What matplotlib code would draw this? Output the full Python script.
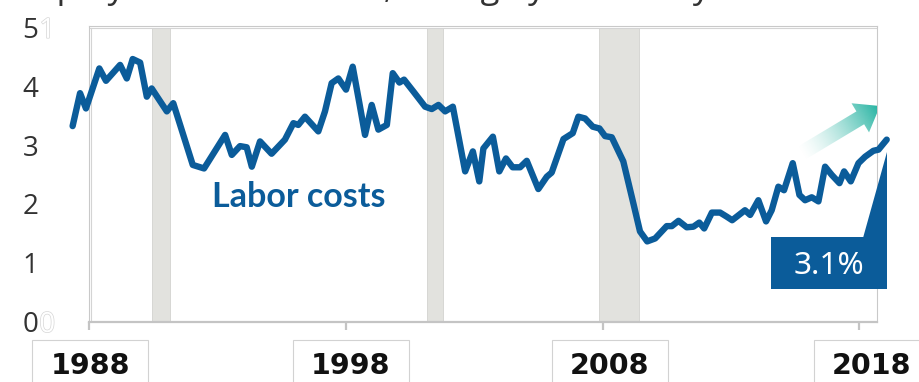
import numpy as np
import matplotlib
matplotlib.use("Agg")
import matplotlib.pyplot as plt
import matplotlib.transforms as mtransforms
import matplotlib.patheffects as pe
from matplotlib.patches import Rectangle, Polygon

# -------------------------------------------------------------
# Data: employment cost index, year-over-year % change
# -------------------------------------------------------------
quarter = [
    1987.35, 1987.64, 1987.87, 1988.39, 1988.65, 1989.20, 1989.46, 1989.69,
    1989.98, 1990.24, 1990.43, 1991.02, 1991.27, 1992.03, 1992.47, 1993.29,
    1993.55, 1993.87, 1994.13, 1994.33, 1994.65, 1995.10, 1995.62, 1995.95,
    1996.14, 1996.40, 1996.92, 1997.18, 1997.44, 1997.70, 1998.00, 1998.26,
    1998.52, 1998.74, 1999.00, 1999.26, 1999.59, 1999.82, 2000.08, 2000.26,
    2000.62, 2001.08, 2001.34, 2001.60, 2001.86, 2002.16, 2002.64, 2002.94,
    2003.19, 2003.35, 2003.72, 2003.97, 2004.23, 2004.49, 2004.78, 2005.04,
    2005.49, 2005.82, 2006.01, 2006.47, 2006.83, 2007.05, 2007.31, 2007.61,
    2007.87, 2008.09, 2008.35, 2008.80, 2009.19, 2009.45, 2009.73, 2010.04,
    2010.49, 2010.69, 2010.95, 2011.27, 2011.53, 2011.76, 2011.95, 2012.25,
    2012.57, 2012.83, 2013.04, 2013.54, 2013.74, 2014.06, 2014.36, 2014.58,
    2014.84, 2015.06, 2015.40, 2015.66, 2015.88, 2016.14, 2016.40, 2016.66,
    2016.92, 2017.22, 2017.40, 2017.66, 2017.96, 2018.22, 2018.54, 2018.74,
    2019.06,
]
labor_costs = [
    3.33, 3.89, 3.63, 4.31, 4.10, 4.37, 4.14, 4.47,
    4.41, 3.83, 3.97, 3.58, 3.72, 2.67, 2.61, 3.18,
    2.84, 2.99, 2.97, 2.64, 3.07, 2.86, 3.10, 3.38,
    3.35, 3.49, 3.24, 3.58, 4.06, 4.14, 3.95, 4.34,
    3.72, 3.18, 3.69, 3.27, 3.35, 4.23, 4.07, 4.12,
    3.92, 3.66, 3.62, 3.69, 3.58, 3.66, 2.56, 2.90,
    2.39, 2.95, 3.15, 2.56, 2.78, 2.63, 2.63, 2.74,
    2.26, 2.47, 2.54, 3.11, 3.21, 3.49, 3.46, 3.32,
    3.29, 3.16, 3.14, 2.73, 2.02, 1.54, 1.37, 1.42,
    1.63, 1.63, 1.72, 1.61, 1.62, 1.69, 1.59, 1.86,
    1.86, 1.79, 1.73, 1.90, 1.82, 2.07, 1.71, 1.90,
    2.30, 2.24, 2.70, 2.16, 2.07, 2.12, 2.05, 2.64,
    2.50, 2.36, 2.56, 2.39, 2.70, 2.81, 2.91, 2.93,
    3.10,
]
recession_start = [1990.43, 2001.14, 2007.87]
recession_end = [1991.15, 2001.77, 2009.43]
year_ticks = [1988, 1998, 2008, 2018]
year_labels = ["1988", "1998", "2008", "2018"]
y_ticks = [0, 1, 2, 3, 4, 5]
series_label = "Labor costs"
latest_label = f"{labor_costs[-1]:.1f}%"
heading = "Employment cost index, change year-over-year"

# -------------------------------------------------------------
# Style
# -------------------------------------------------------------
W, H = 920, 382
BLUE = "#0b5c9a"
TEAL = "#1fb19f"
SHADE = "#e2e2de"
FRAME = "#c9c9c9"
INK = "#333333"

fig = plt.figure(figsize=(W / 100, H / 100), dpi=100)
ax = fig.add_axes([89.3 / W, 60 / H, 787.4 / W, 296.5 / H])
ax.set_xlim(1988, 2018.67)
ax.set_ylim(0, 5.04)

# figure pixel coordinates, origin at the top-left corner
px = mtransforms.Affine2D().scale(1, -1).translate(0, H)

# recession bars
for a, b in zip(recession_start, recession_end):
    ax.fill_between([a, b], 0, 5, color=SHADE, edgecolor="#d3d3cf", lw=0.6, zorder=1)

# series
ax.plot(quarter, labor_costs, color=BLUE, lw=4.6, solid_joinstyle="round",
        solid_capstyle="round", clip_on=False, zorder=4)

# frame
for s in ["left", "top", "right"]:
    ax.spines[s].set_color(FRAME)
    ax.spines[s].set_linewidth(0.8)
ax.spines["bottom"].set_color("#c4c4c4")
ax.spines["bottom"].set_linewidth(1.6)
ax.axhline(5, color="#d4d4d4", lw=0.8, zorder=2)
ax.axvline(1988.055, ymax=5 / 5.04, color="#d4d4d4", lw=0.8, zorder=2)

ax.set_xticks(year_ticks)
ax.tick_params(axis="x", length=6, width=1.6, color="#c4c4c4", labelbottom=False)
ax.set_yticks([])

# y labels
ylab = mtransforms.blended_transform_factory(ax.transAxes, ax.transData)
for v in y_ticks:
    ax.text(-0.0645, v - 0.17, str(v), transform=ylab, ha="right", va="baseline",
            fontsize=20, family="Open Sans", color=INK, clip_on=False)
for v, ghost in [(5, "1"), (0, "0")]:
    ax.text(-0.0635, v - 0.17, ghost, transform=ylab, ha="left", va="baseline",
            fontsize=20, family="Open Sans", color="white", clip_on=False,
            path_effects=[pe.Stroke(linewidth=1.0, foreground="#d6d6d6"), pe.Normal()])

# year labels in boxes under the axis
label_px = [90, 351, 610, 872]
for cx, lab in zip(label_px, year_labels):
    fig.patches.append(Rectangle((cx - 58.3, 340), 116.6, 60, transform=px,
                                 facecolor="white", edgecolor="#d2d2d2", lw=0.8))
    fig.text(cx, 374, lab, transform=px, ha="center", va="baseline",
             fontsize=20.5, fontweight="bold", family="DejaVu Sans", color="#111111")

# heading line, only its descenders fall inside the figure
fig.text(5, -1.5, heading, transform=px, ha="left", va="baseline",
         fontsize=25, family="Open Sans", color=INK)

# series label
ax.text(211.7, 206.7, series_label, transform=px, ha="left", va="baseline",
        fontsize=24.5, fontweight="bold", family="Lato", color=BLUE, zorder=5)

# latest value callout
ax.add_patch(Rectangle((770.7, 236.7), 116.6, 52.6, transform=px,
                       facecolor=BLUE, edgecolor="none", clip_on=False, zorder=5))
ax.add_patch(Polygon([(863.3, 237.5), (887.3, 237.5), (887.3, 151.7)], closed=True,
                     transform=px, facecolor=BLUE, edgecolor="none", clip_on=False, zorder=5))
ax.text(828.5, 274.3, latest_label, transform=px, ha="center", va="baseline",
        fontsize=22.8, family="Noto Sans", color="white", zorder=6)

# fading up-arrow
tail = np.array([800.0, 154.0])
tip = np.array([880.0, 106.0])
d = tip - tail
L = np.hypot(*d)
u = d / L
n = np.array([-u[1], u[0]])
base = tip - 23 * u
pts = [tail + 7.5 * n, base + 7.5 * n, base + 17 * n, tip, base - 17 * n, base - 7.5 * n, tail - 7.5 * n]
arrow = Polygon(pts, closed=True, transform=px, facecolor="none", edgecolor="none")

x0, y0 = np.min(pts, axis=0) - 2
x1, y1 = np.max(pts, axis=0) + 2
gx, gy = np.meshgrid(np.linspace(x0, x1, 200), np.linspace(y0, y1, 140))
t = np.clip(((gx - tail[0]) * u[0] + (gy - tail[1]) * u[1]) / L, 0, 1)
img = np.zeros(gx.shape + (4,))
img[..., :3] = matplotlib.colors.to_rgb(TEAL)
img[..., 3] = t ** 1.5

to_data = lambda p: ax.transData.inverted().transform(px.transform(p))
(dx0, dy1), (dx1, dy0) = to_data([x0, y1]), to_data([x1, y0])
im = ax.imshow(img, extent=(dx0, dx1, dy1, dy0), origin="upper", aspect="auto",
               interpolation="bilinear", zorder=5)
ax.add_patch(arrow)
im.set_clip_path(arrow)
ax.set_xlim(1988, 2018.67)
ax.set_ylim(0, 5.04)

fig.savefig("out.png", dpi=100)
